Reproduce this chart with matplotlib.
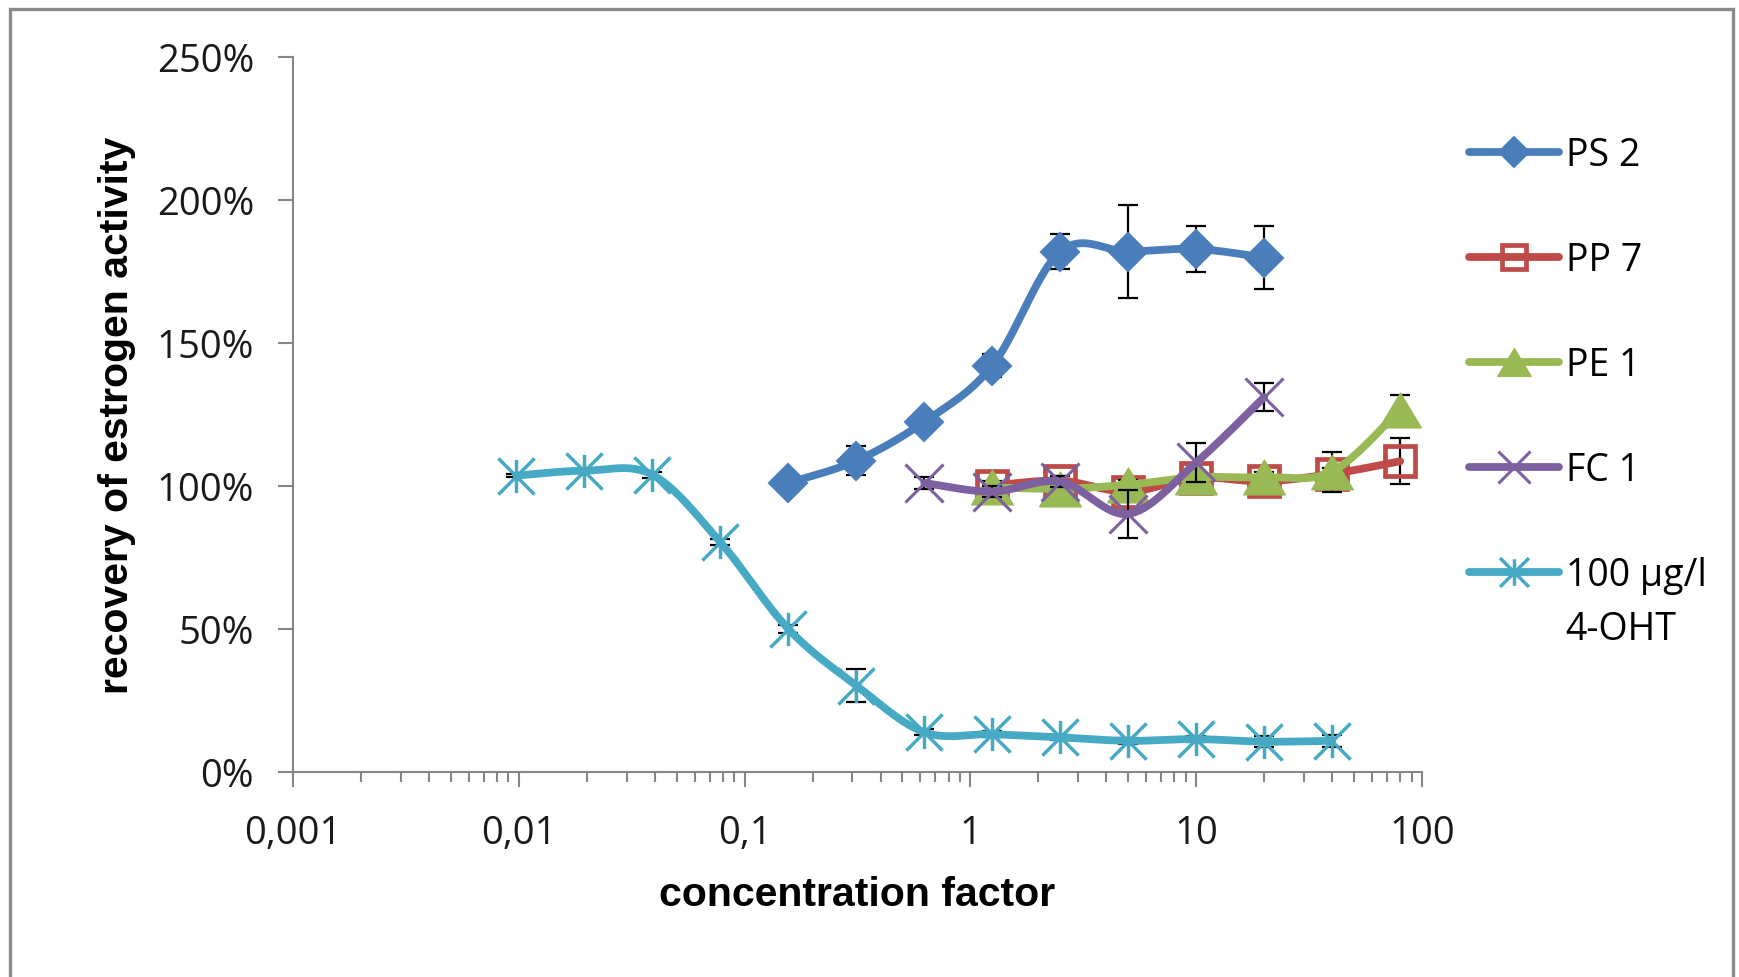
import numpy as np
import matplotlib
matplotlib.use("Agg")
import matplotlib.pyplot as plt
from matplotlib.path import Path
from matplotlib.patches import Rectangle
from matplotlib.ticker import FixedLocator, LogLocator, NullFormatter

# ---------------- data ----------------
conc = [0.009765625, 0.01953125, 0.0390625, 0.078125, 0.15625, 0.3125, 0.625,
        1.25, 2.5, 5, 10, 20, 40, 80]

ps2_x = conc[4:12]
ps2_y = [101.0, 108.8, 122.4, 142.0, 181.9, 181.9, 182.8, 179.8]
ps2_e = [1.5, 5.0, 3.0, 4.0, 6.0, 16.3, 7.9, 11.0]

pp7_x = conc[7:14]
pp7_y = [100.1, 101.8, 98.0, 102.8, 101.6, 104.2, 108.6]
pp7_e = [1.5, 1.5, 1.5, 2.0, 1.5, 2.0, 8.0]

pe1_x = conc[7:14]
pe1_y = [99.5, 99.0, 100.4, 103.0, 103.0, 105.0, 126.6]
pe1_e = [1.5, 1.5, 1.5, 2.0, 2.0, 7.0, 5.0]

fc1_x = conc[6:12]
fc1_y = [101.0, 98.0, 101.5, 90.2, 108.2, 131.0]
fc1_e = [2.0, 2.0, 2.0, 8.4, 6.7, 5.0]

oht_x = conc[0:13]
oht_y = [103.6, 105.3, 103.9, 80.3, 50.0, 30.2, 13.9, 13.2, 12.1, 10.9, 11.5, 10.6, 10.9]
oht_e = [0.5, 0.5, 1.0, 1.0, 1.5, 5.8, 1.0, 1.0, 1.0, 1.0, 1.0, 2.0, 2.0]

labels = ["PS 2", "PP 7", "PE 1", "FC 1", "100 \u00b5g/l"]
label_extra = "4-OHT"
colors = ["#4A7EBB", "#BE4B48", "#98B954", "#7D60A0", "#46AAC5"]

xtick_vals = [0.001, 0.01, 0.1, 1, 10, 100]
xtick_labels = ["0,001", "0,01", "0,1", "1", "10", "100"]
ytick_vals = [0, 50, 100, 150, 200, 250]

xlabel = "concentration factor"
ylabel = "recovery of estrogen activity"

# ---------------- helpers ----------------
def smooth(xs, ys, n=40):
    u = np.log10(np.asarray(xs, float))
    v = np.asarray(ys, float)
    P = np.column_stack([u, v])
    out = [P[0]]
    m = len(P)
    for i in range(m - 1):
        p0 = P[i - 1] if i > 0 else P[i]
        p1 = P[i]
        p2 = P[i + 1]
        p3 = P[i + 2] if i + 2 < m else P[i + 1]
        c1 = p1 + (p2 - p0) / 6.0
        c2 = p2 - (p3 - p1) / 6.0
        t = np.linspace(0, 1, n)[1:, None]
        b = ((1 - t) ** 3) * p1 + 3 * ((1 - t) ** 2) * t * c1 + 3 * (1 - t) * t ** 2 * c2 + t ** 3 * p2
        out.extend(list(b))
    out = np.array(out)
    return 10 ** out[:, 0], out[:, 1]

tri = Path([(-0.6, -0.5), (0.6, -0.5), (0.0, 0.5), (-0.6, -0.5)],
           [Path.MOVETO, Path.LINETO, Path.LINETO, Path.CLOSEPOLY])
ast = Path([(-1, -1), (1, 1), (-1, 1), (1, -1), (0, -0.92), (0, 0.92)],
           [Path.MOVETO, Path.LINETO, Path.MOVETO, Path.LINETO, Path.MOVETO, Path.LINETO])

# ---------------- figure ----------------
W, H = 1739, 978
fig = plt.figure(figsize=(W / 100, H / 100), dpi=100)
fig.patch.set_facecolor("white")

x0, x1, ytop, ybot = 293, 1422, 57.7, 773
ax = fig.add_axes([x0 / W, 1 - ybot / H, (x1 - x0) / W, (ybot - ytop) / H])
ax.set_xscale("log")
ax.set_xlim(0.001, 100)
ax.set_ylim(0, 250)

series = [
    (ps2_x, ps2_y, ps2_e, dict(marker="D", markersize=19.5, markerfacecolor=colors[0],
                               markeredgecolor=colors[0], markeredgewidth=1.5)),
    (pp7_x, pp7_y, pp7_e, dict(marker="s", markersize=21.5, markerfacecolor="none",
                               markeredgecolor=colors[1], markeredgewidth=3.4)),
    (pe1_x, pe1_y, pe1_e, dict(marker=tri, markersize=30, markerfacecolor=colors[2],
                               markeredgecolor=colors[2], markeredgewidth=1.0)),
    (fc1_x, fc1_y, fc1_e, dict(marker="x", markersize=28, markerfacecolor="none",
                               markeredgecolor=colors[3], markeredgewidth=2.2)),
    (oht_x, oht_y, oht_e, dict(marker=ast, markersize=26, markerfacecolor="none",
                               markeredgecolor=colors[4], markeredgewidth=2.5)),
]

LW = 5.6
handles = []
for k, (xs, ys, es, mk) in enumerate(series):
    z = 3 + 3 * k
    ax.errorbar(xs, ys, yerr=es, fmt="none", ecolor="black", elinewidth=1.6,
                capsize=7.5, capthick=1.6, zorder=z)
    sx, sy = smooth(xs, ys)
    ax.plot(sx, sy, color=colors[k], lw=LW, solid_capstyle="round",
            solid_joinstyle="round", zorder=z + 1)
    ax.plot(xs, ys, linestyle="none", zorder=z + 2, **mk)
    h, = ax.plot([], [], color=colors[k], lw=LW, solid_capstyle="round", label=labels[k], **mk)
    handles.append(h)

# axes styling
gray = "#868686"
for s in ["top", "right"]:
    ax.spines[s].set_visible(False)
for s in ["left", "bottom"]:
    ax.spines[s].set_color(gray)
    ax.spines[s].set_linewidth(1.5)
ax.set_facecolor("none")

tick_font = dict(family=["Open Sans", "DejaVu Sans"], size=27.5)
ax.xaxis.set_major_locator(FixedLocator(xtick_vals))
ax.set_xticklabels(xtick_labels, **tick_font, color="#1a1a1a")
ax.xaxis.set_minor_locator(LogLocator(base=10, subs=np.arange(2, 10), numticks=50))
ax.xaxis.set_minor_formatter(NullFormatter())
ax.set_yticks(ytick_vals)
ax.set_yticklabels([f"{v}%" for v in ytick_vals], **tick_font, color="#1a1a1a")

ax.tick_params(axis="x", which="major", direction="out", length=11, width=1.5,
               color=gray, pad=19)
ax.tick_params(axis="x", which="minor", direction="out", length=7, width=1.5, color=gray)
ax.tick_params(axis="y", which="major", direction="out", length=11, width=1.5,
               color=gray, pad=17)

label_font = dict(family=["Liberation Sans", "DejaVu Sans"], weight="bold", size=29.5)
ax.set_xlabel(xlabel, **label_font)
ax.xaxis.set_label_coords(0.5, (ybot - 876) / (ybot - ytop))
ax.set_ylabel(ylabel, **label_font)
ax.yaxis.set_label_coords((136 - x0) / (x1 - x0), 0.5)

leg_font = dict(family=["Open Sans", "DejaVu Sans"], size=27)
leg = fig.legend(handles=handles, loc="upper left",
                 bbox_to_anchor=(1469 / W, 1 - 137 / H),
                 frameon=False, prop=leg_font, markerscale=0.8,
                 handlelength=2.4, handletextpad=0.18, labelspacing=1.79,
                 borderaxespad=0, borderpad=0)

# second line of the last legend label, placed under its first line
fig.canvas.draw()
t_last = leg.get_texts()[-1]
bb = t_last.get_window_extent()
fig.text(bb.x0 / W, (bb.y0 - 53) / H, label_extra, fontdict=leg_font,
         ha="left", va="bottom", color=t_last.get_color())

# outer chart frame
fig.add_artist(Rectangle((9.5 / W, -0.1), (1733 - 9.5) / W, 1.1 - 9.5 / H,
                         transform=fig.transFigure, fill=False,
                         edgecolor="#8a8a8a", linewidth=2.4, zorder=0))

fig.savefig("out.png", dpi=100)
